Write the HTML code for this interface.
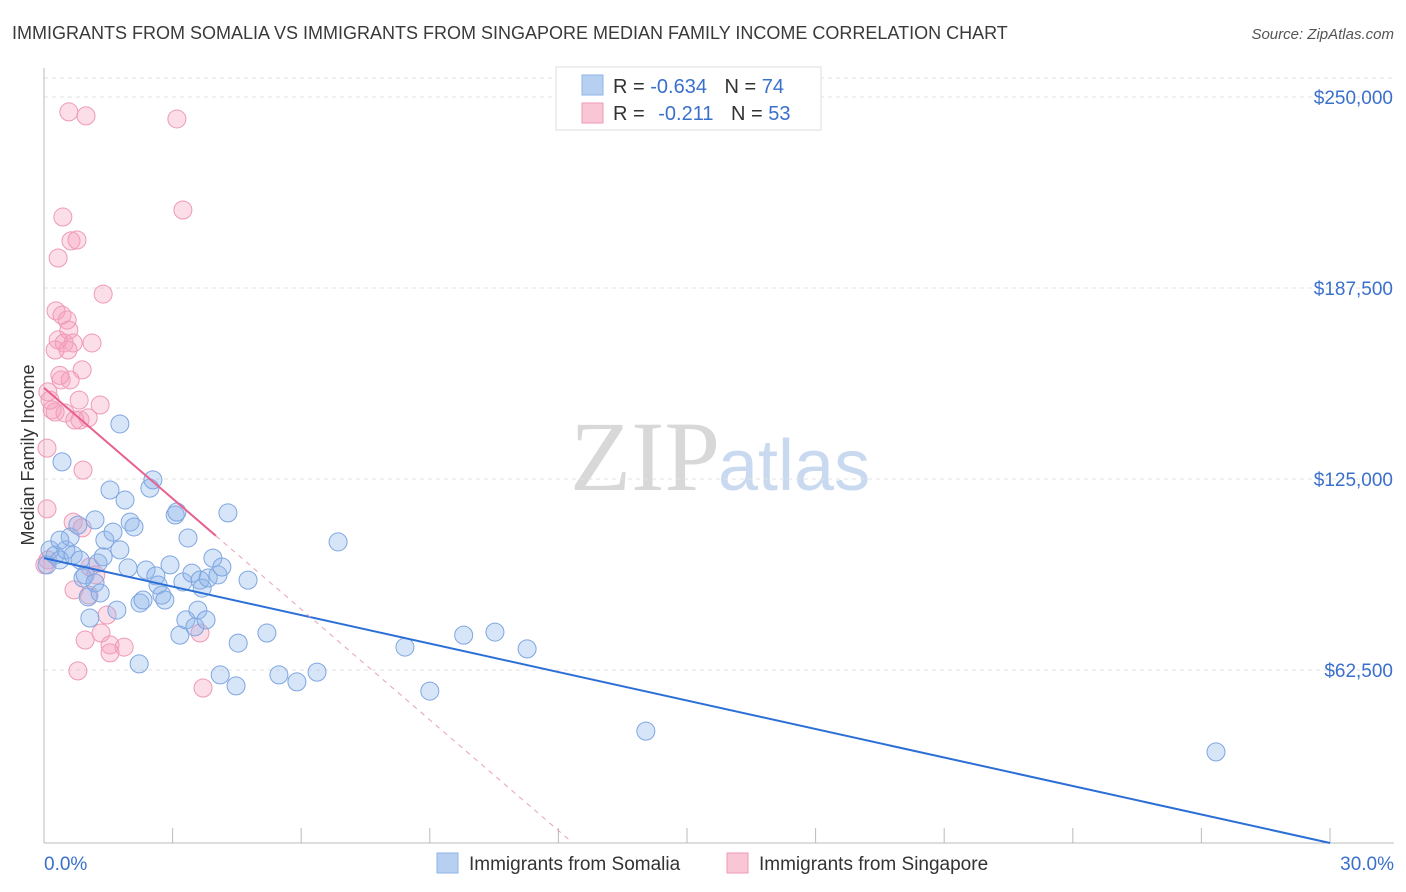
<!DOCTYPE html>
<html><head><meta charset="utf-8"><style>
body{margin:0;background:#fff;font-family:"Liberation Sans",sans-serif;}
svg{display:block}
</style></head><body>
<svg id="chart" width="1406" height="892" xmlns="http://www.w3.org/2000/svg">
<text x="12" y="39" font-size="18" fill="#3a3a3a">IMMIGRANTS FROM SOMALIA VS IMMIGRANTS FROM SINGAPORE MEDIAN FAMILY INCOME CORRELATION CHART</text>
<text x="1394" y="39" font-size="15" fill="#555" text-anchor="end" font-style="italic">Source: ZipAtlas.com</text>
<text x="720" y="490" font-size="100" fill="#d8d8d8" text-anchor="end" font-family="Liberation Serif, serif">ZIP</text>
<text x="718" y="490" font-size="72" fill="#c9d9ef">atlas</text>
<text transform="translate(34,455) rotate(-90)" font-size="18" fill="#333" text-anchor="middle">Median Family Income</text>
<g id="grid"></g><g id="axes"></g><g id="pink"></g><g id="blue"></g><g id="trend"></g>
<g>
<rect x="556" y="67" width="265" height="63" fill="#fff" stroke="#ddd"/>
<rect x="582" y="75" width="21" height="20" fill="#b7d0f2" stroke="#8fb3e6"/>
<rect x="582" y="103" width="21" height="20" fill="#f9c6d6" stroke="#ee9ab5"/>
<text x="613" y="93" font-size="20" fill="#333">R = <tspan fill="#3a70cc">-0.634</tspan>  <tspan dx="12">N = </tspan><tspan fill="#3a70cc">74</tspan></text>
<text x="613" y="120" font-size="20" fill="#333">R = <tspan fill="#3a70cc" dx="8">-0.211</tspan>  <tspan dx="12">N = </tspan><tspan fill="#3a70cc">53</tspan></text>
</g>
<g>
<rect x="437" y="853" width="21" height="20" fill="#b7d0f2" stroke="#8fb3e6"/>
<text x="469" y="870" font-size="19" fill="#333">Immigrants from Somalia</text>
<rect x="727" y="853" width="21" height="20" fill="#f9c6d6" stroke="#ee9ab5"/>
<text x="759" y="870" font-size="19" fill="#333">Immigrants from Singapore</text>
</g>
</svg>
<script>
const blueX=[0.07,0.14,0.26,0.37,0.42,0.51,0.61,0.68,0.79,0.84,0.91,0.96,1.03,1.07,1.19,1.26,1.31,1.38,1.42,1.54,1.61,1.70,1.77,1.89,1.96,2.01,2.10,2.22,2.24,2.31,2.38,2.47,2.54,2.61,2.66,2.75,2.82,2.94,3.06,3.10,3.17,3.24,3.31,3.36,3.45,3.52,3.59,3.64,3.69,3.78,3.83,3.94,4.06,4.11,4.15,4.29,4.48,4.53,4.76,5.20,5.48,5.90,6.37,6.86,8.42,9.00,9.79,10.52,11.27,14.04,27.34,1.77,1.19,0.37];
const blueY=[96.9,101.8,100.1,98.5,130.6,101.8,106.0,100.1,109.9,98.5,92.6,93.6,86.4,79.5,91.0,97.5,87.7,99.5,105.0,121.4,107.6,82.1,101.8,118.1,95.9,110.9,109.3,64.5,84.4,85.4,95.2,122.0,124.7,93.3,90.3,87.0,85.4,96.9,113.2,114.2,73.9,91.3,78.9,105.7,94.2,76.6,82.1,91.9,89.3,78.9,92.6,99.1,93.6,60.9,96.2,113.9,57.3,71.3,91.9,74.6,60.9,58.6,61.8,104.4,70.0,55.6,73.9,74.9,69.4,42.5,35.7,143.0,111.6,105.0];
const pinkX=[0.58,0.98,3.10,3.24,0.44,0.63,0.77,0.33,1.38,0.28,0.42,0.54,0.58,0.33,0.47,0.68,1.12,0.56,0.26,0.89,0.40,0.61,0.09,0.82,1.31,0.19,0.49,0.84,1.03,0.07,0.91,0.07,0.68,0.89,0.09,1.07,1.21,0.70,1.05,1.47,1.33,3.64,0.96,1.54,1.87,1.54,0.79,3.71,0.26,0.37,0.14,0.72,0.02];
const pinkY=[245.1,243.8,242.8,213.0,210.7,202.9,203.2,197.3,185.5,180.0,178.6,177.0,173.7,170.5,169.5,169.5,169.5,167.2,167.2,160.7,157.4,157.4,153.5,150.8,149.2,147.6,146.6,144.3,145.0,135.1,127.9,115.2,110.9,109.0,98.5,96.2,93.6,88.7,87.0,80.5,74.6,74.6,72.3,70.7,70.0,68.1,62.2,56.6,146.9,158.9,150.8,144.3,96.9];
const yTicks=[62.5,125,187.5,250];
const yTickLabels=["$62,500","$125,000","$187,500","$250,000"];
const xTicks=[0,3,6,9,12,15,18,21,24,27,30];
const blueTrend=[99.1,5.9];   // y at 0% and 30%
const pinkTrend=[154.8,106.4,4.01]; // y at 0%, y at solid end, solid end x%
const NS="http://www.w3.org/2000/svg";
const xs=v=>44+v*(1286/30);
const ys=v=>861-v/0.3272;
function mk(t,a,p){const e=document.createElementNS(NS,t);for(const k in a)e.setAttribute(k,a[k]);p.appendChild(e);return e;}
const grid=document.getElementById('grid'),axes=document.getElementById('axes');
yTicks.forEach((t,i)=>{
 const l=mk('line',{x1:44,x2:1394,y1:ys(t),y2:ys(t),stroke:'#e2e2e2','stroke-dasharray':'4,4'},grid);
 
 
 const tx=mk('text',{x:1393,y:ys(t)+7,'font-size':19,fill:'#3a70cc','text-anchor':'end'},axes);
 tx.textContent=yTickLabels[i];
 
 
});
const topg=mk('line',{x1:44,x2:1394,y1:78,y2:78,stroke:'#e2e2e2','stroke-dasharray':'4,4'},grid);


const ya=mk('line',{x1:44,x2:44,y1:68,y2:843,stroke:'#bbb'},axes);


const xa=mk('line',{x1:44,x2:1394,y1:843,y2:843,stroke:'#bbb'},axes);


xTicks.forEach(t=>{
 const l=mk('line',{x1:xs(t),x2:xs(t),y1:828,y2:843,stroke:'#bbb'},axes);
 
 
});
const xl0=mk('text',{x:44,y:870,'font-size':19,fill:'#3a70cc'},axes);xl0.textContent=xTicks[0].toFixed(1)+'%';


const xl1=mk('text',{x:1394,y:870,'font-size':19,fill:'#3a70cc','text-anchor':'end'},axes);xl1.textContent=xTicks[xTicks.length-1].toFixed(1)+'%';


const pg=document.getElementById('pink'),bg=document.getElementById('blue');
pinkX.forEach((x,i)=>{
 const c=mk('circle',{cx:xs(x),cy:ys(pinkY[i]),r:9,fill:'rgba(245,160,190,0.35)',stroke:'#ee9ab5','stroke-width':1},pg);
 
 
});
blueX.forEach((x,i)=>{
 const c=mk('circle',{cx:xs(x),cy:ys(blueY[i]),r:9,fill:'rgba(140,180,235,0.35)',stroke:'#7fa6e0','stroke-width':1},bg);
 
 
});
const tg=document.getElementById('trend');
const bt=mk('line',{x1:xs(0),y1:ys(blueTrend[0]),x2:xs(30),y2:ys(blueTrend[1]),stroke:'#2b6fd6','stroke-width':2},tg);


const slope=(pinkTrend[1]-pinkTrend[0])/pinkTrend[2];
const xEnd=(6.9-pinkTrend[0])/slope;
const pd=mk('line',{x1:xs(pinkTrend[2]),y1:ys(pinkTrend[1]),x2:xs(xEnd),y2:ys(6.9),stroke:'#e8a0b8','stroke-width':1,'stroke-dasharray':'5,5'},tg);


const pt=mk('line',{x1:xs(0),y1:ys(pinkTrend[0]),x2:xs(pinkTrend[2]),y2:ys(pinkTrend[1]),stroke:'#e8608f','stroke-width':2},tg);


</script>
</body></html>
